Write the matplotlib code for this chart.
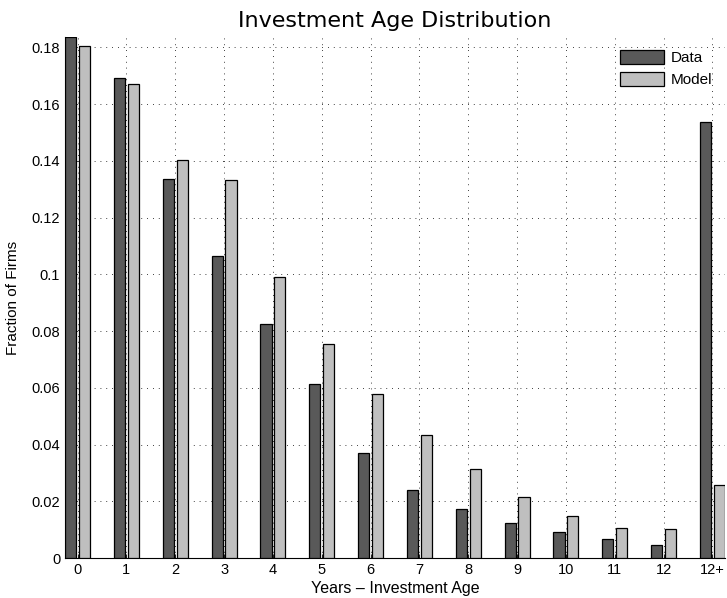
import matplotlib
matplotlib.use("Agg")
import matplotlib.pyplot as plt
import numpy as np

# Fraction of firms by years since last investment
age_labels = ["0", "1", "2", "3", "4", "5", "6", "7", "8", "9", "10", "11", "12", "12+"]
data_frac = [0.1837, 0.1694, 0.1337, 0.1064, 0.0824, 0.0613, 0.0371, 0.0241,
             0.0173, 0.0125, 0.0091, 0.0066, 0.0046, 0.1537]
model_frac = [0.1807, 0.1671, 0.1404, 0.1332, 0.0991, 0.0754, 0.0580, 0.0433,
              0.0315, 0.0215, 0.0147, 0.0106, 0.0102, 0.0257]
y_ticks = [0, 0.02, 0.04, 0.06, 0.08, 0.1, 0.12, 0.14, 0.16, 0.18]
y_tick_labels = ["0", "0.02", "0.04", "0.06", "0.08", "0.1", "0.12", "0.14", "0.16", "0.18"]

plt.rcParams["font.family"] = ["Liberation Sans", "DejaVu Sans"]

fig = plt.figure(figsize=(7.27, 5.98), dpi=100)
ax = fig.add_axes([65 / 727, 40 / 598, 660 / 727, 521 / 598])

x = np.arange(len(age_labels))
# grouped-bar geometry for two series
group_w = 2 / 3.5
offset = group_w / 4
bar_w = group_w / 2 * 0.8

ax.bar(x - offset, data_frac, width=bar_w, color="#595959", edgecolor="black",
       linewidth=0.9, label="Data", zorder=3)
ax.bar(x + offset, model_frac, width=bar_w, color="#bfbfbf", edgecolor="black",
       linewidth=0.9, label="Model", zorder=3)

ax.set_xlim(-offset - bar_w / 2, len(age_labels) - 1 + offset + bar_w / 2)
ax.set_ylim(0, max(data_frac))
ax.set_xticks(x)
ax.set_xticklabels(age_labels)
ax.set_yticks(y_ticks)
ax.set_yticklabels(y_tick_labels)
ax.tick_params(direction="in", length=3, labelsize=10.5, width=0.6)

ax.grid(True, linestyle=(0, (1, 6)), color="black", linewidth=0.6, zorder=0)
ax.set_axisbelow(True)
for side in ("top", "right"):
    ax.spines[side].set_visible(False)
for side in ("left", "bottom"):
    ax.spines[side].set_linewidth(0.8)

ax.set_title("Investment Age Distribution", fontsize=16, pad=7,
             family=["DejaVu Sans"])
ax.set_xlabel("Years \u2013 Investment Age", fontsize=11.5, labelpad=3)
ax.set_ylabel("Fraction of Firms", fontsize=11, labelpad=8)

ax.legend(loc="upper right", frameon=False, fontsize=11, handlelength=2.9,
          handleheight=1.0, borderaxespad=0.45, handletextpad=0.4,
          labelspacing=0.45, bbox_to_anchor=(1.0, 1.0))

fig.savefig("out.png", dpi=100)
